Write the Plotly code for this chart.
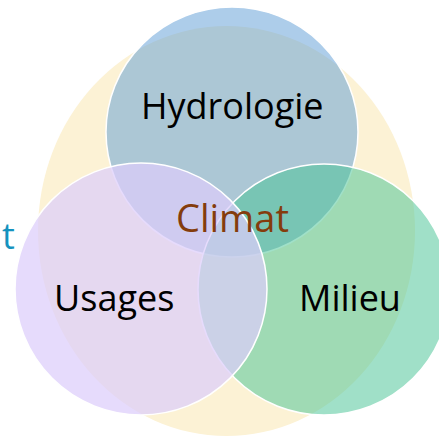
import plotly.graph_objects as go

# Venn sets: label, bounding box (x0, y0, x1, y1) in pixel-like data units
labels = ["Climat", "Hydrologie", "Milieu", "Usages"]
x0s = [38, 106, 198, 15]
y0s = [26, 7, 164, 163]
x1s = [415, 358, 450, 267]
y1s = [436, 257, 415, 415]
fills = ["rgb(252,242,213)", "rgba(91,155,213,0.5)", "rgba(72,195,149,0.52)", "rgba(220,205,251,0.72)"]
lines = [0, 1.5, 1.5, 1.5]

# label positions
lab_x = [232, 232, 350, 114, 8]
lab_y = [217, 105, 297, 297, 235]
lab_text = ["Climat", "Hydrologie", "Milieu", "Usages", "t"]
lab_size = [38, 36, 36, 36, 36]
lab_color = ["#843C0C", "#000000", "#000000", "#000000", "#1592BE"]

fig = go.Figure()
fig.add_trace(go.Scatter(x=[0, 439], y=[0, 437], mode="markers", marker=dict(opacity=0), hoverinfo="skip", showlegend=False))

for i in range(len(labels)):
    fig.add_shape(type="circle", xref="x", yref="y", x0=x0s[i], y0=y0s[i], x1=x1s[i], y1=y1s[i],
                  fillcolor=fills[i], line=dict(color="white", width=lines[i]) if lines[i] else dict(width=0),
                  layer="below")

for i in range(len(lab_text)):
    fig.add_annotation(x=lab_x[i], y=lab_y[i], text=lab_text[i], showarrow=False,
                       font=dict(family="Open Sans", size=lab_size[i], color=lab_color[i]),
                       xanchor="center", yanchor="middle")

fig.update_xaxes(range=[0, 439], visible=False, fixedrange=True)
fig.update_yaxes(range=[437, 0], visible=False, fixedrange=True)
fig.update_layout(width=439, height=437, margin=dict(l=0, r=0, t=0, b=0),
                  paper_bgcolor="white", plot_bgcolor="white", showlegend=False)
fig.write_html("out.html", config={"displayModeBar": False},
               post_script="document.body.style.margin='0px';document.body.style.overflow='hidden';")
